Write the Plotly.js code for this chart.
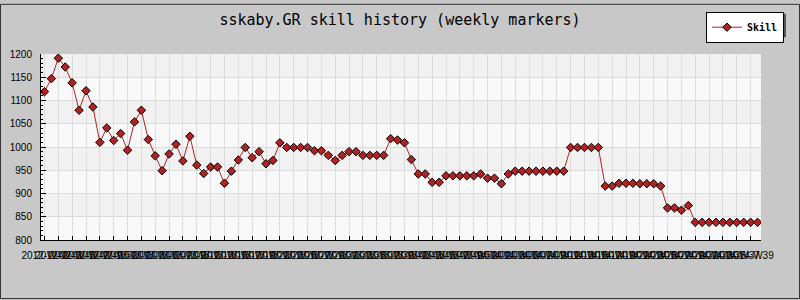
<!DOCTYPE html>
<html>
<head>
<meta charset="utf-8">
<script src="https://cdn.plot.ly/plotly-3.0.1.min.js"></script>
<style>
  html, body { margin: 0; padding: 0; background: #c8c8c8; }
  #chart { width: 800px; height: 300px; }
</style>
</head>
<body>
<div id="chart"></div>
<script>
// ISO week of each skill sample
const weeks = [
  "2012-W41","2012-W42","2012-W43","2012-W44","2012-W45","2012-W46","2012-W47","2012-W48",
  "2012-W49","2012-W50","2012-W51","2012-W52",
  "2013-W01","2013-W02","2013-W03","2013-W04","2013-W05","2013-W06","2013-W07","2013-W08",
  "2013-W09","2013-W10","2013-W11","2013-W12","2013-W13","2013-W14","2013-W15","2013-W16",
  "2013-W17","2013-W18","2013-W19","2013-W20","2013-W21","2013-W22","2013-W23","2013-W24",
  "2013-W25","2013-W26","2013-W27","2013-W28","2013-W29","2013-W30","2013-W31","2013-W32",
  "2013-W33","2013-W34","2013-W35","2013-W36","2013-W37","2013-W38","2013-W39","2013-W40",
  "2013-W41","2013-W42","2013-W43","2013-W44","2013-W45","2013-W46","2013-W47","2013-W48",
  "2013-W49","2013-W50","2013-W51","2013-W52",
  "2014-W01","2014-W02","2014-W03","2014-W04","2014-W05","2014-W06","2014-W07","2014-W08",
  "2014-W09","2014-W10","2014-W11","2014-W12","2014-W13","2014-W14","2014-W15","2014-W16",
  "2014-W17","2014-W18","2014-W19","2014-W20","2014-W21","2014-W22","2014-W23","2014-W24",
  "2014-W25","2014-W26","2014-W27","2014-W28","2014-W29","2014-W30","2014-W31","2014-W32",
  "2014-W33","2014-W34","2014-W35","2014-W36","2014-W37","2014-W38","2014-W39","2014-W40"
];

// weekly skill rating
const skill = [
  1119, 1147, 1191, 1172, 1138, 1079, 1121, 1086, 1010, 1041,
  1014, 1029,  993, 1054, 1079, 1016,  981,  949,  985, 1006,
   970, 1023,  961,  943,  957,  957,  922,  948,  972,  999,
   977,  990,  964,  971, 1009,  999,  999,  999,  999,  992,
   992,  982,  971,  982,  990,  990,  982,  982,  982,  982,
  1018, 1015, 1009,  973,  942,  942,  924,  924,  938,  938,
   938,  938,  938,  942,  933,  933,  921,  942,  948,  948,
   948,  948,  948,  948,  948,  948,  999,  999,  999,  999,
   999,  916,  916,  922,  922,  922,  921,  921,  921,  916,
   869,  869,  864,  874,  838,  838,  838,  838,  838,  838,
   838,  838,  838,  838
];

const yTicks = [800, 850, 900, 950, 1000, 1050, 1100, 1150, 1200];
const xTicks = weeks.filter((w, i) => i % 2 === 0);

// page geometry helpers (pixels -> paper fractions)
const W = 800, H = 300;
const M = { l: 41, r: 39, t: 51, b: 60 };
const pw = W - M.l - M.r, ph = H - M.t - M.b;
const px = x => (x - M.l) / pw;
const py = y => (H - M.b - y) / ph;

const shapes = [];
// alternating horizontal grid fill
for (let i = 0; i + 1 < yTicks.length; i++) {
  if (i % 2 === 1) {
    shapes.push({
      type: 'rect', layer: 'below', xref: 'paper', yref: 'y',
      x0: 0, x1: 1, y0: yTicks[i], y1: yTicks[i + 1],
      fillcolor: '#f1f1f1', line: { width: 0 }
    });
  }
}
// legend drop shadow
shapes.push({
  type: 'rect', layer: 'above', xref: 'paper', yref: 'paper',
  x0: px(709), x1: px(786), y0: py(34), y1: py(10),
  fillcolor: '#555555', line: { width: 0 }
});
// outer frame
shapes.push({
  type: 'rect', layer: 'above', xref: 'paper', yref: 'paper',
  x0: px(0.5), x1: px(799.5), y0: py(299.5), y1: py(0.5),
  fillcolor: 'rgba(0,0,0,0)', line: { width: 1, color: '#333333' }
});

const trace = {
  type: 'scatter', mode: 'lines+markers', name: 'Skill',
  x: weeks, y: skill,
  line: { color: '#b22222', width: 1 },
  marker: { symbol: 'diamond', size: 6.5, color: '#b22222', line: { color: '#000000', width: 1 } }
};

const tickFont = { family: 'Liberation Sans, Arial, sans-serif', size: 10, color: '#000000' };

const layout = {
  width: W, height: H,
  margin: M,
  paper_bgcolor: '#c8c8c8',
  plot_bgcolor: '#f9f9f9',
  title: {
    text: 'sskaby.GR skill history (weekly markers)',
    font: { family: 'DejaVu Sans Mono, monospace', size: 15, color: '#000000' },
    x: 0.5, xref: 'container', xanchor: 'center',
    y: 1 - 20 / H, yref: 'container', yanchor: 'middle'
  },
  xaxis: {
    type: 'category',
    range: [-0.5, weeks.length - 0.5],
    tickmode: 'array', tickvals: xTicks, ticktext: xTicks,
    tickangle: 0,
    ticks: 'inside', ticklen: 4, tickcolor: '#000000', tickwidth: 1,
    showline: true, linecolor: '#000000', linewidth: 1,
    showgrid: true, gridcolor: '#dcdcdc', gridwidth: 1,
    zeroline: false, tickfont: tickFont, ticklabelstandoff: 6,
    fixedrange: true
  },
  yaxis: {
    range: [800, 1200],
    tickmode: 'array', tickvals: yTicks,
    ticks: 'inside', ticklen: 5, tickcolor: '#000000', tickwidth: 1,
    minor: { dtick: 10, ticks: 'inside', ticklen: 2, tickcolor: '#000000', showgrid: false },
    showline: true, linecolor: '#000000', linewidth: 1,
    showgrid: true, gridcolor: '#dcdcdc', gridwidth: 1,
    zeroline: false, tickfont: tickFont, ticklabelstandoff: 6,
    fixedrange: true
  },
  showlegend: true,
  legend: {
    x: px(784), xanchor: 'right', y: py(8), yanchor: 'top',
    bgcolor: '#ffffff', bordercolor: '#000000', borderwidth: 1,
    font: { family: 'DejaVu Sans Mono, monospace', size: 10, color: '#000000', weight: 'bold' }
  },
  shapes: shapes
};

Plotly.newPlot('chart', [trace], layout, { displayModeBar: false, staticPlot: true });
</script>
</body>
</html>
